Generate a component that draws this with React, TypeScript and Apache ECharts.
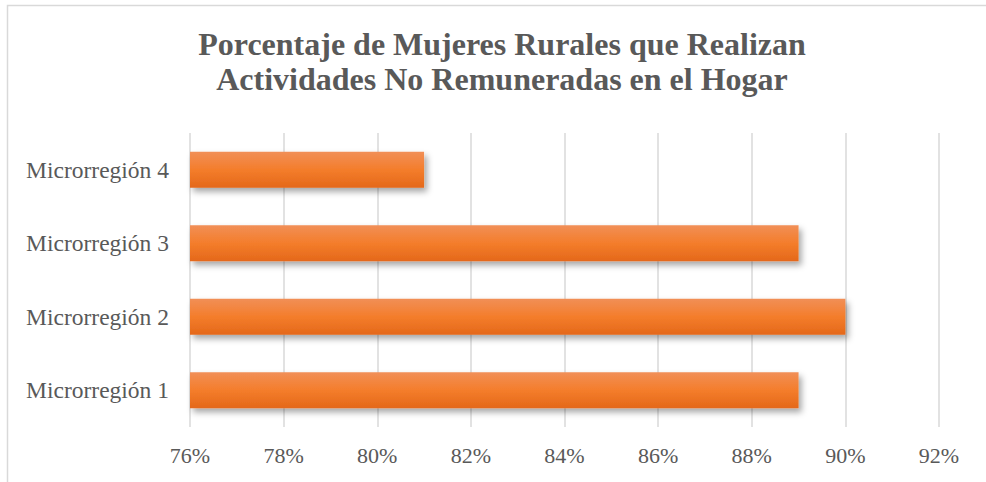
import React, { useEffect, useRef } from "react";
import * as echarts from "echarts";

const categories = ["Microrregión 1", "Microrregión 2", "Microrregión 3", "Microrregión 4"];
const values = [89, 90, 89, 81];
const titleLines = [
  "Porcentaje de Mujeres Rurales que Realizan",
  "Actividades No Remuneradas en el Hogar",
];
const xMin = 76;
const xMax = 92;
const xStep = 2;

export default function App() {
  const ref = useRef<HTMLDivElement>(null);
  useEffect(() => {
    if (!ref.current) return;
    const chart = echarts.init(ref.current, null, { renderer: "svg" });
    const font = "'Liberation Serif', 'Times New Roman', serif";
    chart.setOption({
      animation: false,
      backgroundColor: "#ffffff",
      title: {
        text: titleLines.join("\n"),
        left: 497,
        textAlign: "center",
        top: 21,
        textStyle: {
          fontFamily: font,
          fontWeight: "bold",
          fontSize: 32,
          lineHeight: 35,
          color: "#595959",
        },
      },
      graphic: [
        {
          type: "rect",
          shape: { x: 7.5, y: 5.5, width: 1000, height: 500 },
          style: { fill: "none", stroke: "#d9d9d9", lineWidth: 1.5 },
          silent: true,
        },
      ],
      grid: { left: 190, right: 47, top: 133, bottom: 55 },
      xAxis: {
        type: "value",
        min: xMin,
        max: xMax,
        interval: xStep,
        axisLine: { show: false },
        axisTick: { show: false },
        splitLine: { show: true, lineStyle: { color: "#d9d9d9", width: 1.5 } },
        axisLabel: {
          formatter: (v: number) => `${v}%`,
          fontFamily: font,
          fontSize: 22,
          color: "#595959",
          margin: 17,
        },
      },
      yAxis: {
        type: "category",
        data: categories,
        axisLine: { show: false },
        axisTick: { show: false },
        splitLine: { show: false },
        axisLabel: {
          fontFamily: font,
          fontSize: 23.5,
          color: "#595959",
          margin: 21,
        },
      },
      series: [
        {
          type: "bar",
          data: values,
          barCategoryGap: "51%",
          itemStyle: {
            color: new echarts.graphic.LinearGradient(0, 0, 0, 1, [
              { offset: 0, color: "#f18f57" },
              { offset: 0.5, color: "#f47d2b" },
              { offset: 1, color: "#e4681a" },
            ]),
            shadowBlur: 6,
            shadowOffsetX: 3,
            shadowOffsetY: 4,
            shadowColor: "rgba(0,0,0,0.35)",
          },
        },
      ],
    });
    return () => chart.dispose();
  }, []);
  return (
    <div style={{ position: "absolute", left: 0, top: 0, width: 986, height: 482 }}>
      <div ref={ref} style={{ width: 986, height: 482 }} />
    </div>
  );
}
